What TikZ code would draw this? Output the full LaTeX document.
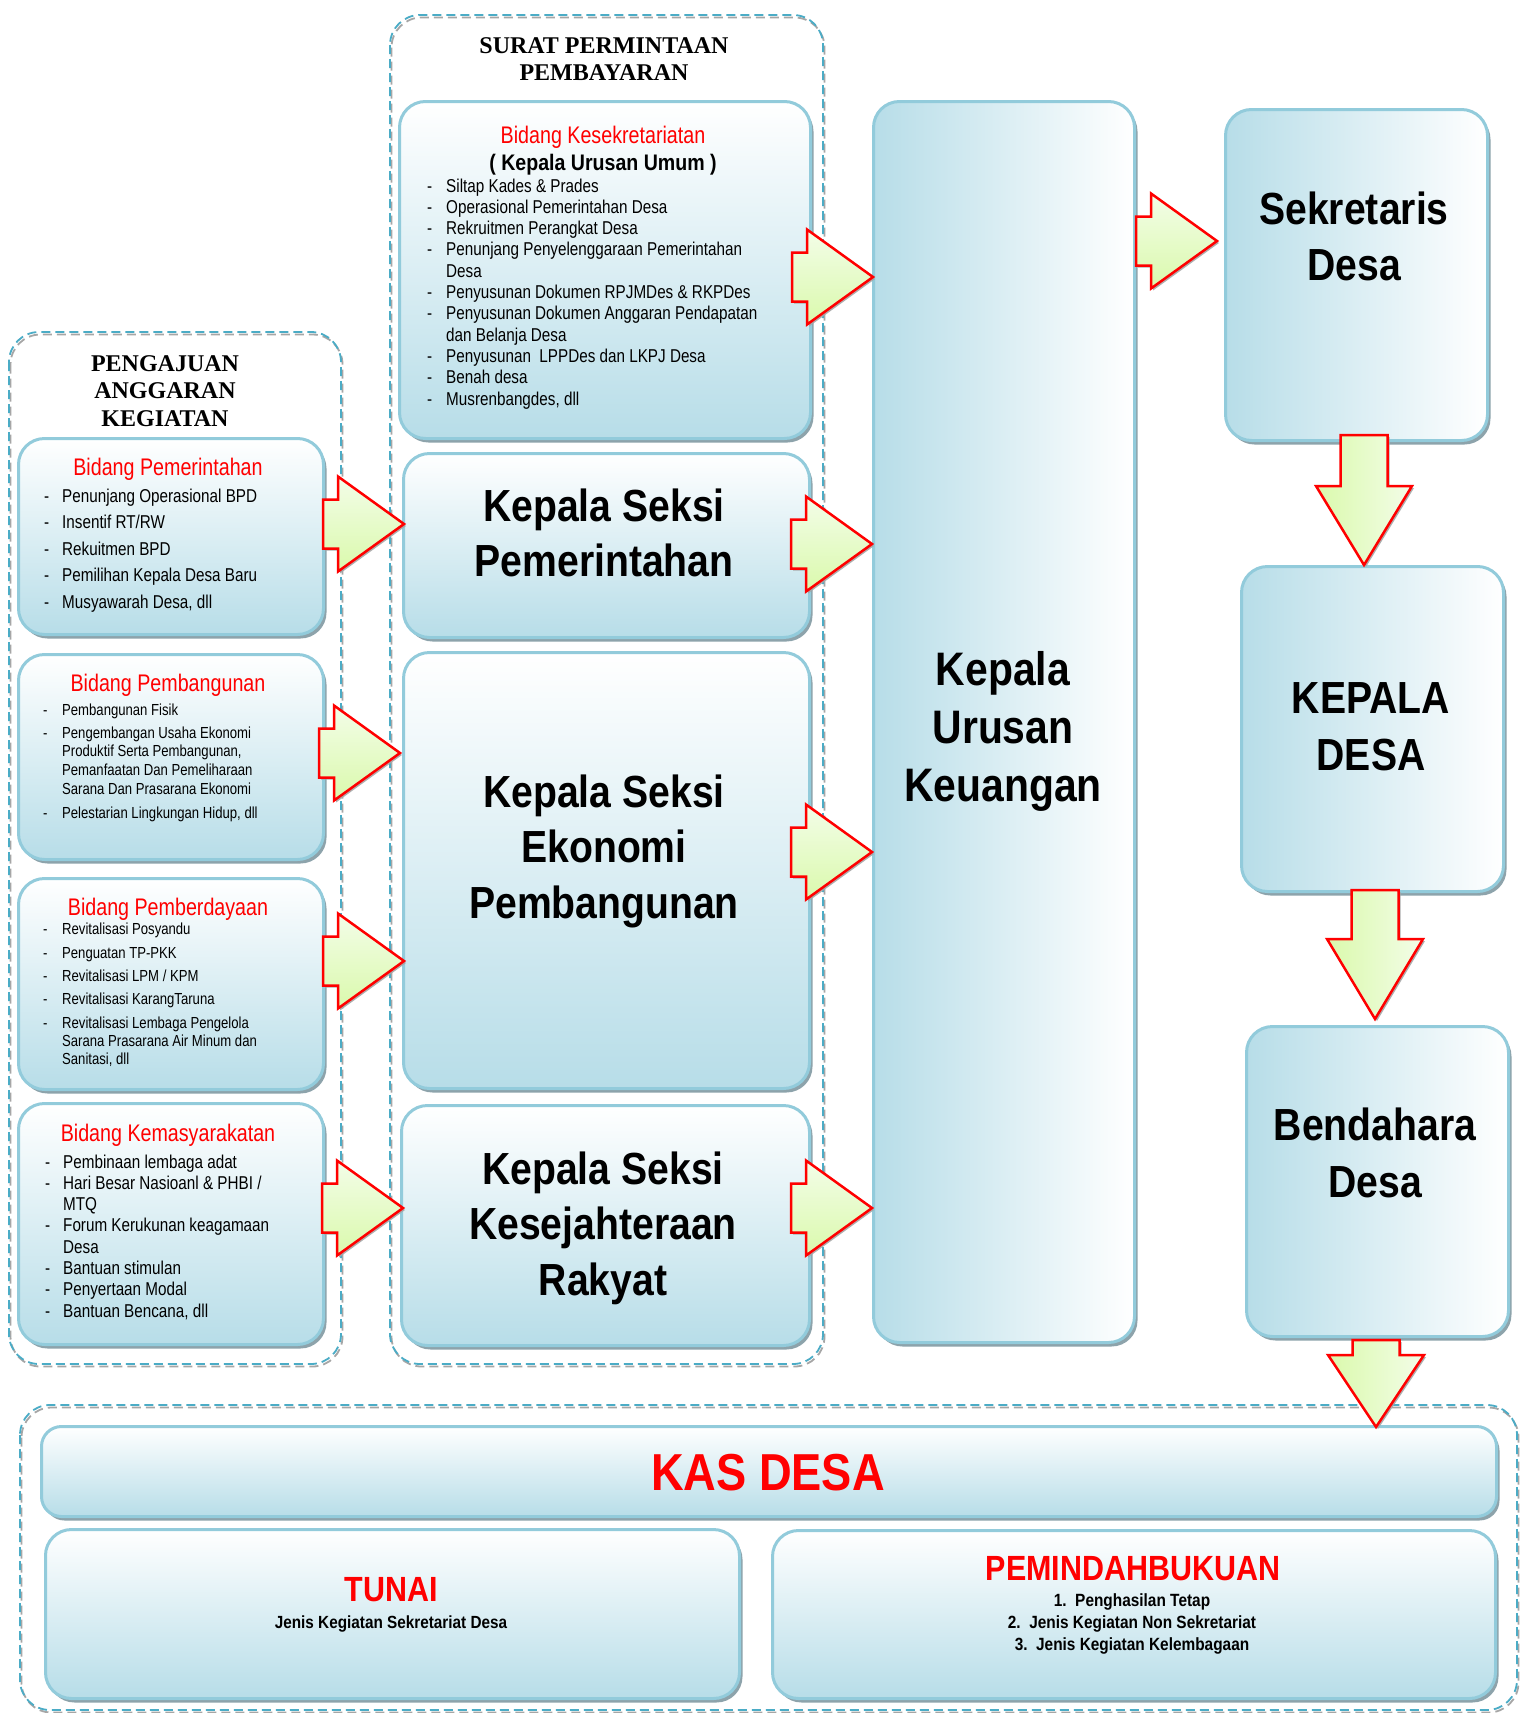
\documentclass[tikz,border=0pt]{standalone}
\usepackage{fontspec}
\usepackage{array}
\setmainfont{Liberation Sans}
\newfontfamily\nr{Liberation Sans}[FakeStretch=0.82]
\newfontfamily\nb{Liberation Sans}[FakeStretch=0.87]
\newfontfamily\tms{Liberation Serif}
\usetikzlibrary{shadows}
\definecolor{kblue}{HTML}{B7DDE8}
\definecolor{kborder}{HTML}{92CBDB}
\definecolor{kshadow}{HTML}{8DA3AB}
\definecolor{dblue}{HTML}{4BACC6}
\definecolor{dgray}{HTML}{A6A6A6}
\definecolor{ared}{HTML}{FF0000}
\definecolor{glight}{HTML}{F3FDE8}
\definecolor{gdark}{HTML}{DAF9AC}
\tikzset{
  boxbase/.style={draw=kborder, line width=3pt, rounded corners=26pt, inner sep=0pt, anchor=north west,
    drop shadow={shadow xshift=3pt, shadow yshift=-4pt, fill=kshadow, opacity=1}},
  vbox/.style={boxbase, top color=white, bottom color=kblue},
  hbox/.style={boxbase, left color=kblue, right color=white},
  dashb/.style={draw=dblue, line width=1.8pt, dash pattern=on 9pt off 5pt, rounded corners=30pt},
  dashg/.style={draw=dgray, line width=1.8pt, dash pattern=on 9pt off 5pt, rounded corners=30pt},
  rarr/.style={draw=ared, line width=2.5pt, line join=miter, top color=glight, bottom color=gdark,
    drop shadow={shadow xshift=2pt, shadow yshift=-2pt, fill=gray!70, opacity=.9}},
  darr/.style={draw=ared, line width=2.5pt, line join=miter, left color=gdark, right color=glight,
    drop shadow={shadow xshift=2pt, shadow yshift=-2pt, fill=gray!70, opacity=.9}},
  redtitle/.style={anchor=base, inner sep=0pt, text=ared, font=\nr\fontsize{24}{28}\selectfont},
  bigtxt/.style={anchor=base, inner sep=0pt, font=\nb\bfseries\fontsize{45}{55}\selectfont},
  listtxt/.style={anchor=base west, inner sep=0pt},
}
\newcommand\rarrowshape[2]{%
  \begin{scope}[shift={(#1,#2)}]
    \path[rarr] (-81,-24.5) -- (-66,-24.5) -- (-66,-47.5) -- (0,0) -- (-66,47.5) -- (-66,24.5) -- (-81,24.5) -- cycle;
  \end{scope}}
\newcommand\darrowshape[4]{% tip x, tip y, tail top, head base
  \path[darr] (#1-23.5,#3) -- (#1+23.5,#3) -- (#1+23.5,#4) -- (#1+48,#4) -- (#1,#2) -- (#1-48,#4) -- (#1-23.5,#4) -- cycle;}
\begin{document}
\begin{tikzpicture}[x=1pt,y=-1pt]
\useasboundingbox (0,0) rectangle (1526,1713);
\fill[white] (0,0) rectangle (1526,1713);

% dashed frames
\draw[dashg] (10.5,334.5) rectangle (342.5,1366.5);
\draw[dashb] (9,332) rectangle (341,1364);
\draw[dashg] (391.5,17.5) rectangle (824.5,1366.5);
\draw[dashb] (390,15) rectangle (823,1364);
\draw[dashg] (21.5,1407.5) rectangle (1518.5,1712.5);
\draw[dashb] (20,1405) rectangle (1517,1710);

% boxes
\node[vbox, minimum width=305pt, minimum height=196pt] (bp1) at (17,437) {};
\node[vbox, minimum width=305pt, minimum height=205pt] (bp2) at (17,653) {};
\node[vbox, minimum width=305pt, minimum height=211pt] (bp3) at (17,877) {};
\node[vbox, minimum width=305pt, minimum height=241pt] (bp4) at (17,1102) {};
\node[vbox, minimum width=411pt, minimum height=337pt] (sk) at (398,100) {};
\node[vbox, minimum width=406pt, minimum height=184pt] (ks1) at (402,452) {};
\node[vbox, minimum width=406pt, minimum height=436pt] (ks2) at (402,651) {};
\node[vbox, minimum width=408pt, minimum height=240pt] (ks3) at (400,1104) {};
\node[hbox, minimum width=261pt, minimum height=1241pt] (keu) at (872,100) {};
\node[hbox, minimum width=262pt, minimum height=331pt] (sek) at (1224,108) {};
\node[hbox, minimum width=262pt, minimum height=325pt] (kd) at (1240,565) {};
\node[hbox, minimum width=262pt, minimum height=310pt] (bend) at (1245,1025) {};
\node[vbox, rounded corners=20pt, minimum width=1455pt, minimum height=90pt] (kas) at (40,1425) {};
\node[vbox, minimum width=694pt, minimum height=169pt] (tun) at (44,1528) {};
\node[vbox, minimum width=723pt, minimum height=168pt] (pind) at (771,1529) {};

% arrows
\rarrowshape{404}{524}
\rarrowshape{400}{753}
\rarrowshape{404}{961}
\rarrowshape{403}{1208}
\rarrowshape{873}{277}
\rarrowshape{872}{544}
\rarrowshape{872}{852}
\rarrowshape{872}{1208}
\rarrowshape{1217}{241}
\darrowshape{1364}{565}{435}{486}
\darrowshape{1375}{1019}{890}{939}
\darrowshape{1376}{1427}{1340}{1355}

% frame titles
\node[anchor=base, inner sep=0pt, font=\tms\bfseries\fontsize{24}{27.5}\selectfont] (tpeng) at (165,371)
  {\begin{tabular}[t]{@{}c@{}}PENGAJUAN\\ANGGARAN\\KEGIATAN\end{tabular}};
\node[anchor=base, inner sep=0pt, font=\tms\bfseries\fontsize{24}{27}\selectfont] (tsurat) at (604,53.5)
  {\begin{tabular}[t]{@{}c@{}}SURAT PERMINTAAN\\PEMBAYARAN\end{tabular}};

% left column texts
\node[redtitle] (t1) at (168,475) {Bidang Pemerintahan};
\node[listtxt, font=\nr\fontsize{18.6}{26.5}\selectfont] (l1) at (44,502)
  {\begin{tabular}[t]{@{}p{18pt}@{}l@{}}
   -&Penunjang Operasional BPD\\
   -&Insentif RT/RW\\
   -&Rekuitmen BPD\\
   -&Pemilihan Kepala Desa Baru\\
   -&Musyawarah Desa, dll
  \end{tabular}};

\node[redtitle] (t2) at (168,691) {Bidang Pembangunan};
\node[listtxt, font=\nr\fontsize{16}{18.8}\selectfont] (l2) at (43,715)
  {\begin{tabular}[t]{@{}p{19pt}@{}l@{}}
   -&Pembangunan Fisik\\[4.2pt]
   -&Pengembangan Usaha Ekonomi\\
    &Produktif Serta Pembangunan,\\
    &Pemanfaatan Dan Pemeliharaan\\
    &Sarana Dan Prasarana Ekonomi\\[5pt]
   -&Pelestarian Lingkungan Hidup, dll
  \end{tabular}};

\node[redtitle] (t3) at (168,915) {Bidang Pemberdayaan};
\node[listtxt, font=\nr\fontsize{16}{18}\selectfont] (l3) at (43,934)
  {\begin{tabular}[t]{@{}p{19pt}@{}l@{}}
   -&Revitalisasi Posyandu\\[6pt]
   -&Penguatan TP-PKK\\[5pt]
   -&Revitalisasi LPM / KPM\\[5pt]
   -&Revitalisasi KarangTaruna\\[6pt]
   -&Revitalisasi Lembaga Pengelola\\
    &Sarana Prasarana Air Minum dan\\
    &Sanitasi, dll
  \end{tabular}};

\node[redtitle] (t4) at (168,1141) {Bidang Kemasyarakatan};
\node[listtxt, font=\nr\fontsize{18.6}{21.3}\selectfont] (l4) at (45,1168)
  {\begin{tabular}[t]{@{}p{18pt}@{}l@{}}
   -&Pembinaan lembaga adat\\
   -&Hari Besar Nasioanl \& PHBI /\\
    &MTQ\\
   -&Forum Kerukunan keagamaan\\
    &Desa\\
   -&Bantuan stimulan\\
   -&Penyertaan Modal\\
   -&Bantuan Bencana, dll
  \end{tabular}};

% kesekretariatan
\node[redtitle] (t5) at (603,143) {Bidang Kesekretariatan};
\node[anchor=base, inner sep=0pt, font=\nb\bfseries\fontsize{22.5}{26}\selectfont] (t5b) at (603,170) {( Kepala Urusan Umum )};
\node[listtxt, font=\nr\fontsize{18.6}{21.3}\selectfont] (l5) at (427,192)
  {\begin{tabular}[t]{@{}p{19pt}@{}l@{}}
   -&Siltap Kades \& Prades\\
   -&Operasional Pemerintahan Desa\\
   -&Rekruitmen Perangkat Desa\\
   -&Penunjang Penyelenggaraan Pemerintahan\\
    &Desa\\
   -&Penyusunan Dokumen RPJMDes \& RKPDes\\
   -&Penyusunan Dokumen Anggaran Pendapatan\\
    &dan Belanja Desa\\
   -&Penyusunan\ \ LPPDes dan LKPJ Desa\\
   -&Benah desa\\
   -&Musrenbangdes, dll
  \end{tabular}};

% big texts
\node[bigtxt] (tks1) at (604,521) {\begin{tabular}[t]{@{}c@{}}Kepala Seksi\\Pemerintahan\end{tabular}};
\node[bigtxt, font=\nb\bfseries\fontsize{45}{55.5}\selectfont] (tks2) at (604,807) {\begin{tabular}[t]{@{}c@{}}Kepala Seksi\\Ekonomi\\Pembangunan\end{tabular}};
\node[bigtxt, font=\nb\bfseries\fontsize{45}{55.5}\selectfont] (tks3) at (603,1184) {\begin{tabular}[t]{@{}c@{}}Kepala Seksi\\Kesejahteraan\\Rakyat\end{tabular}};
\node[bigtxt, font=\nb\bfseries\fontsize{47}{58}\selectfont] (tkeu) at (1003,685) {\begin{tabular}[t]{@{}c@{}}Kepala\\Urusan\\Keuangan\end{tabular}};
\node[bigtxt, font=\nb\bfseries\fontsize{45}{56}\selectfont] (tsek) at (1354,224) {\begin{tabular}[t]{@{}c@{}}Sekretaris\\Desa\end{tabular}};
\node[bigtxt, font=\nb\bfseries\fontsize{45}{57}\selectfont] (tkd) at (1371,713) {\begin{tabular}[t]{@{}c@{}}KEPALA\\DESA\end{tabular}};
\node[bigtxt, font=\nb\bfseries\fontsize{45}{57}\selectfont] (tbend) at (1375,1140) {\begin{tabular}[t]{@{}c@{}}Bendahara\\Desa\end{tabular}};

% kas desa
\node[anchor=base, inner sep=0pt, text=ared, font=\nb\bfseries\fontsize{52}{60}\selectfont] (tkas) at (768,1490) {KAS DESA};
\node[anchor=base, inner sep=0pt, text=ared, font=\nb\bfseries\fontsize{35}{40}\selectfont] (ttun) at (391,1601) {TUNAI};
\node[anchor=base, inner sep=0pt, font=\nb\bfseries\fontsize{17.6}{22}\selectfont] (ttun2) at (391,1628) {Jenis Kegiatan Sekretariat Desa};
\node[anchor=base, inner sep=0pt, text=ared, font=\nb\bfseries\fontsize{35}{40}\selectfont] (tpind) at (1133,1580) {PEMINDAHBUKUAN};
\node[anchor=base, inner sep=0pt, font=\nb\bfseries\fontsize{17.7}{22}\selectfont] (tpind2) at (1132,1606)
  {\begin{tabular}[t]{@{}c@{}}1.\ \ Penghasilan Tetap\\2.\ \ Jenis Kegiatan Non Sekretariat\\3.\ \ Jenis Kegiatan Kelembagaan\end{tabular}};
\end{tikzpicture}
\end{document}
